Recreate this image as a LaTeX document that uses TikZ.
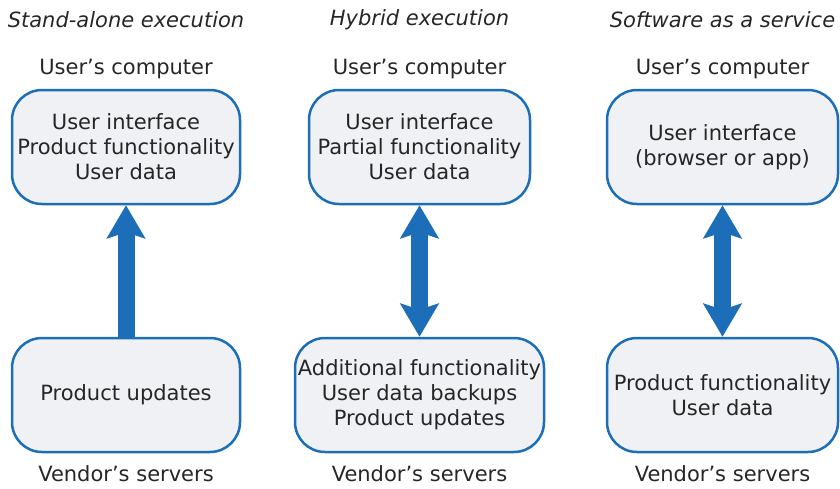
\documentclass[tikz,border=0pt]{standalone}
\usepackage{fontspec}
\setmainfont{DejaVu Sans}
\usetikzlibrary{arrows.meta}
\definecolor{boxblue}{HTML}{1B6EB7}
\definecolor{boxfill}{HTML}{F0F1F4}
\definecolor{txtgray}{HTML}{262626}

\begin{document}
\begin{tikzpicture}[x=1pt, y=1pt, every node/.style={text=txtgray, font=\fontsize{21}{25}\selectfont}]

\tikzstyle{box}      = [draw=boxblue, fill=boxfill, line width=2.5pt, rounded corners=30pt, minimum height=114pt, align=center, inner sep=0pt] % rounded box
\tikzstyle{title}    = [font=\fontsize{21}{25}\selectfont\itshape] % column heading
\tikzstyle{bigarrow} = [line width=17pt, color=boxblue] % fat connector
\tikzstyle{tip}      = [-{Stealth[length=33pt, width=38pt, inset=6pt]}]
\tikzstyle{tips}     = [{Stealth[length=33pt, width=38pt, inset=6pt]}-{Stealth[length=33pt, width=38pt, inset=6pt]}]

\useasboundingbox (0,0) rectangle (840,-488);

% user's computer boxes
\node(uc1)[box, minimum width=228pt] at (126,-147){User interface\\Product functionality\\User data};
\node(uc2)[box, minimum width=221pt, right of=uc1, node distance=293.5pt]{User interface\\Partial functionality\\User data};
\node(uc3)[box, minimum width=231pt, right of=uc2, node distance=303pt]{User interface\\(browser or app)};

% vendor's server boxes
\node(vs1)[box, minimum width=228pt, below of=uc1, node distance=248pt]{Product updates};
\node(vs2)[box, minimum width=249pt, below of=uc2, node distance=248pt]{Additional functionality\\User data backups\\Product updates};
\node(vs3)[box, minimum width=231pt, below of=uc3, node distance=248pt]{Product functionality\\User data};

% headings
\node(t1)[title, above of=uc1, node distance=127pt]{Stand-alone execution};
\node(t2)[title, above of=uc2, node distance=127pt]{Hybrid execution};
\node(t3)[title, above of=uc3, node distance=127pt]{Software as a service};

% labels
\node(l1)[above of=uc1, node distance=78pt]{User’s computer};
\node(l2)[above of=uc2, node distance=78pt]{User’s computer};
\node(l3)[above of=uc3, node distance=78pt]{User’s computer};
\node(m1)[below of=vs1, node distance=79pt, inner sep=1pt]{Vendor’s servers};
\node(m2)[below of=vs2, node distance=79pt, inner sep=1pt]{Vendor’s servers};
\node(m3)[below of=vs3, node distance=79pt, inner sep=1pt]{Vendor’s servers};

% arrows
\draw[bigarrow, tip](vs1.north)--(uc1.south);
\draw[bigarrow, tips](vs2.north)--(uc2.south);
\draw[bigarrow, tips](vs3.north)--(uc3.south);
\end{tikzpicture}
\end{document}
